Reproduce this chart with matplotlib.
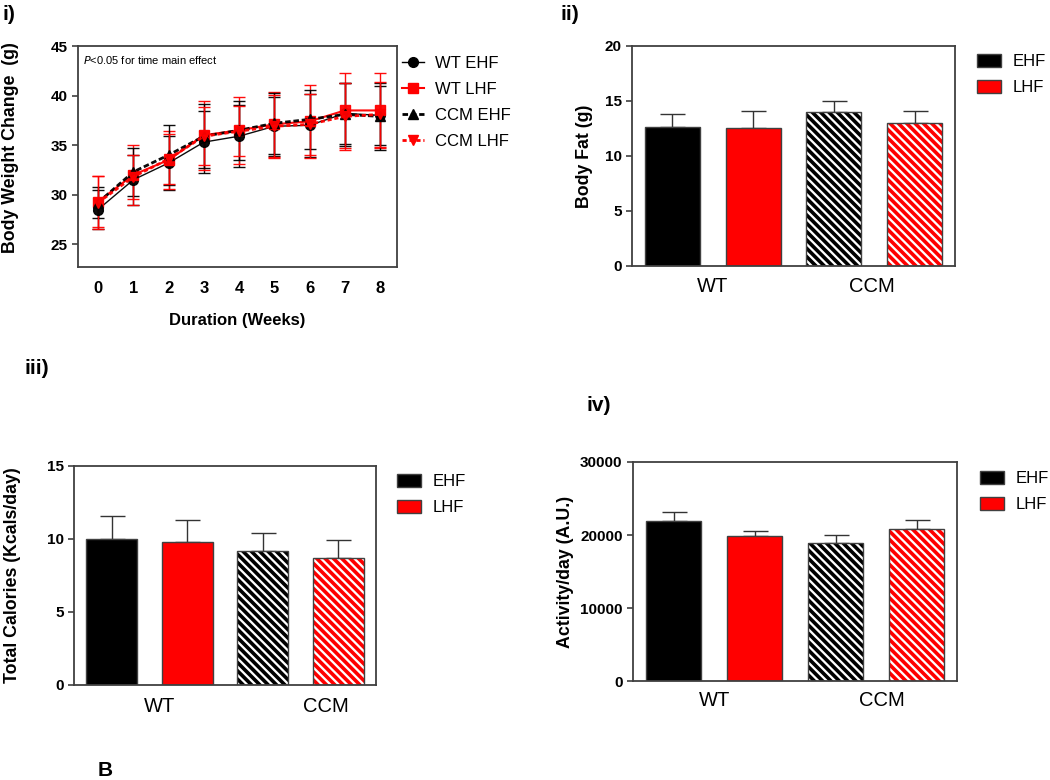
import numpy as np
import matplotlib
matplotlib.use("Agg")
import matplotlib.pyplot as plt
from matplotlib.patches import Patch
from matplotlib.lines import Line2D

plt.rcParams['font.family'] = ['Liberation Sans', 'DejaVu Sans']
plt.rcParams['hatch.linewidth'] = 2.6

# panel i - body weight over weeks
weeks = [0, 1, 2, 3, 4, 5, 6, 7, 8]
wt_ehf = [28.5, 31.5, 33.2, 35.3, 35.9, 36.9, 37.0, 38.2, 38.0]
wt_ehf_sd = [2.0, 2.5, 2.7, 3.1, 3.1, 3.0, 3.2, 3.1, 3.0]
wt_lhf = [29.3, 32.0, 33.5, 36.0, 36.5, 37.1, 37.4, 38.5, 38.5]
wt_lhf_sd = [2.6, 3.0, 2.9, 3.5, 3.4, 3.3, 3.7, 3.8, 3.8]
ccm_ehf = [29.2, 32.3, 34.0, 35.9, 36.5, 37.2, 37.6, 38.1, 37.9]
ccm_ehf_sd = [1.6, 2.4, 3.0, 3.2, 3.0, 3.1, 3.0, 3.2, 3.4]
ccm_lhf = [29.2, 31.8, 33.6, 35.9, 36.4, 36.9, 37.1, 37.9, 38.1]
ccm_lhf_sd = [2.7, 2.2, 2.5, 2.9, 2.5, 3.2, 3.1, 3.4, 3.3]

# bar panels: order WT EHF, WT LHF, CCM EHF, CCM LHF
groups = ["WT", "CCM"]
body_fat = [12.6, 12.5, 14.0, 13.0]
body_fat_sem = [1.2, 1.6, 1.0, 1.1]
calories = [10.0, 9.8, 9.2, 8.7]
calories_sem = [1.6, 1.5, 1.2, 1.2]
activity = [21900, 19800, 18900, 20800]
activity_sem = [1300, 800, 1100, 1200]

RED = "#ff0000"
EDGE = "#404040"

fig = plt.figure(figsize=(10.5, 7.8), dpi=100)


def style_box(ax):
    for s in ax.spines.values():
        s.set_color(EDGE)
        s.set_linewidth(1.3)
    ax.tick_params(axis='y', direction='out', length=4, width=1.2, color=EDGE, labelsize=11)
    ax.tick_params(axis='x', length=0, width=0)
    for lab in ax.get_yticklabels():
        lab.set_fontweight('bold')


def bar_panel(ax, vals, errs, ylim, yticks, ylabel, label_x, leg_xy, xt_pos, xt_pad):
    x = np.arange(4)
    w = 0.68
    # solid bars
    ax.bar(x[:2], vals[:2], width=w, color=['black', RED], edgecolor=EDGE, linewidth=1, zorder=2)
    # hatched bars
    ax.bar(x[2:], vals[2:], width=w, color='white', edgecolor=['black', RED],
           hatch='\\\\\\\\', linewidth=0, zorder=2)
    ax.bar(x[2:], vals[2:], width=w, fill=False, edgecolor=EDGE, linewidth=1, zorder=3)
    ax.errorbar(x, vals, yerr=[np.zeros(4), errs], fmt='none', ecolor='#333333',
                elinewidth=1, capsize=9, capthick=1, zorder=1)
    ax.set_xlim(-0.5, 3.5)
    ax.set_ylim(*ylim)
    ax.set_yticks(yticks)
    ax.set_xticks(xt_pos)
    ax.set_xticklabels(groups, fontsize=14.5)
    ax.set_ylabel(ylabel, fontsize=12.8, fontweight='bold')
    ax.yaxis.set_label_coords(label_x, 0.5)
    style_box(ax)
    ax.tick_params(axis='x', pad=xt_pad)
    handles = [Patch(facecolor='black', edgecolor=EDGE), Patch(facecolor=RED, edgecolor=EDGE)]
    ax.legend(handles, ['EHF', 'LHF'], loc='upper left', bbox_to_anchor=leg_xy,
              frameon=False, fontsize=12, handlelength=1.45, handleheight=0.8,
              handletextpad=0.7, labelspacing=0.65, borderpad=0, borderaxespad=0)


# ---- panel i
ax1 = fig.add_axes([0.0743, 0.6577, 0.3038, 0.2833])
series = [
    (wt_ehf, wt_ehf_sd, 'black', 'o', '-', 1.0, 'WT EHF'),
    (wt_lhf, wt_lhf_sd, RED, 's', '-', 1.5, 'WT LHF'),
    (ccm_ehf, ccm_ehf_sd, 'black', '^', (0, (2, 1)), 2.0, 'CCM EHF'),
    (ccm_lhf, ccm_lhf_sd, RED, 'v', (0, (1.5, 1)), 2.0, 'CCM LHF'),
]
for vals, sd, c, m, ls, lw, lab in series:
    ax1.errorbar(weeks, vals, yerr=sd, color=c, marker=m, markersize=7, linestyle=ls,
                 linewidth=lw, elinewidth=1, capsize=4.5, capthick=1, label=lab, alpha=0.95)
ax1.set_xlim(-0.57, 8.48)
ax1.set_ylim(22.7, 45)
ax1.set_yticks([25, 30, 35, 40, 45])
ax1.set_xticks(weeks)
ax1.set_xticklabels([str(w) for w in weeks], fontsize=12, fontweight='bold')
ax1.set_xlabel('Duration (Weeks)', fontsize=12, fontweight='bold', labelpad=12)
ax1.set_ylabel('Body Weight Change  (g)', fontsize=12.8, fontweight='bold')
ax1.yaxis.set_label_coords(-0.185, 0.54)
style_box(ax1)
ax1.tick_params(axis='x', length=0, pad=10)
ax1.text(0.015, 0.965, '$\\it{P}$<0.05 for time main effect', transform=ax1.transAxes,
         fontsize=8, va='top', ha='left')
leg_handles = [Line2D([], [], color=c, marker=m, markersize=7, linestyle=ls, linewidth=lw)
               for _, _, c, m, ls, lw, _ in series]
ax1.legend(leg_handles, [s[-1] for s in series], loc='upper left', bbox_to_anchor=(1.016, 0.955),
           frameon=False, fontsize=12, handlelength=1.3, handletextpad=0.7, labelspacing=0.66,
           borderpad=0, borderaxespad=0)

# ---- panel ii
ax2 = fig.add_axes([0.6019, 0.659, 0.3076, 0.2821])
bar_panel(ax2, body_fat, body_fat_sem, (0, 20), [0, 5, 10, 15, 20], 'Body Fat (g)',
          -0.121, (1.068, 0.964), [0.5, 2.47], 8)

# ---- panel iii
ax3 = fig.add_axes([0.0705, 0.1218, 0.2876, 0.2808])
bar_panel(ax3, calories, calories_sem, (0, 15), [0, 5, 10, 15], 'Total Calories (Kcals/day)',
          -0.177, (1.07, 0.963), [0.64, 2.83], 9)

# ---- panel iv
ax4 = fig.add_axes([0.6029, 0.1269, 0.3086, 0.2808])
bar_panel(ax4, activity, activity_sem, (0, 30000), [0, 10000, 20000, 30000], 'Activity/day (A.U.)',
          -0.182, (1.071, 0.958), [0.51, 2.57], 7)

# panel letters
fig.text(3 / 1050, 1 - 14 / 780, 'i)', fontsize=15, fontweight='bold', va='center')
fig.text(560 / 1050, 1 - 14 / 780, 'ii)', fontsize=15, fontweight='bold', va='center')
fig.text(24 / 1050, 1 - 368 / 780, 'iii)', fontsize=15, fontweight='bold', va='center')
fig.text(586 / 1050, 1 - 405 / 780, 'iv)', fontsize=15, fontweight='bold', va='center')
fig.text(98 / 1050, 1 - 770 / 780, 'B', fontsize=15, fontweight='bold', va='center')

fig.savefig('out.png', dpi=100)
